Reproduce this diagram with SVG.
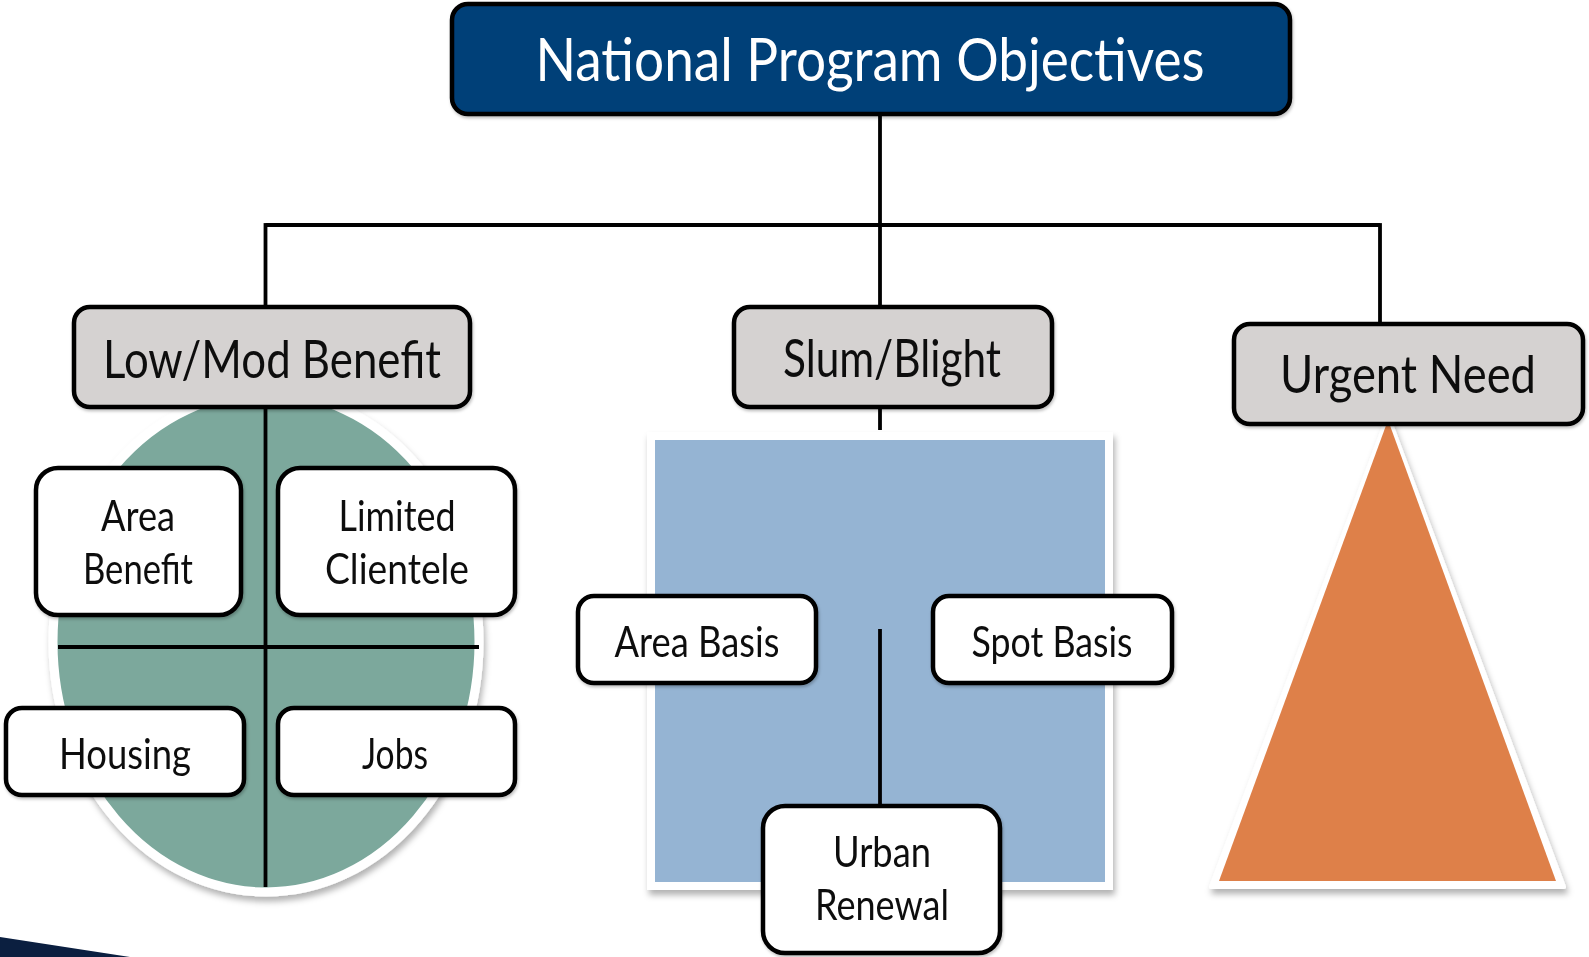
<svg xmlns="http://www.w3.org/2000/svg" width="1589" height="957" viewBox="0 0 1589 957">
<defs>
<filter id="sh" x="-10%" y="-10%" width="125%" height="125%">
<feDropShadow dx="2" dy="5" stdDeviation="3" flood-color="#000" flood-opacity="0.3"/>
</filter>
<filter id="bs" x="-10%" y="-10%" width="125%" height="130%">
<feDropShadow dx="1" dy="2" stdDeviation="1.5" flood-color="#000" flood-opacity="0.25"/>
</filter>
</defs>
<style>
.hdr{fill:#D5D2D1;stroke:#000;stroke-width:4.5}
.sub{fill:#fff;stroke:#000;stroke-width:4.5}
.ln{stroke:#000;stroke-width:3.8;fill:none}
.t{font-family:Lato,"Liberation Sans",sans-serif;fill:#111;text-anchor:middle}
.th{font-size:52px}
.ts{font-size:43px}
</style>
<rect width="1589" height="957" fill="#fff"/>
<g id="backgrounds">
<ellipse cx="266" cy="642" rx="213" ry="250" fill="#7BA89C" stroke="#fff" stroke-width="9" filter="url(#sh)"/>
<rect x="651" y="436" width="458" height="450" fill="#95B4D3" stroke="#fff" stroke-width="8" filter="url(#sh)"/>
<polygon points="1388,416 1564,887 1211,887" fill="#fff" stroke="#fff" stroke-width="4" stroke-linejoin="round" filter="url(#sh)"/>
<polygon points="1388,420 1556,881 1219,881" fill="#DE8049"/>
<polygon points="0,937 130,957 0,957" fill="#0B1F40"/>
</g>
<g id="connectors">
<line class="ln" x1="880" y1="115" x2="880" y2="307"/>
<line class="ln" x1="265.5" y1="225" x2="1380" y2="225"/>
<line class="ln" x1="265.5" y1="223.1" x2="265.5" y2="307"/>
<line class="ln" x1="1380" y1="223.1" x2="1380" y2="324"/>
<line class="ln" x1="880" y1="407" x2="880" y2="430"/>
<line class="ln" x1="880" y1="629" x2="880" y2="806"/>
<line class="ln" x1="265.5" y1="407" x2="265.5" y2="887"/>
<line class="ln" x1="58" y1="647" x2="479" y2="647"/>
</g>
<g id="node-objectives" filter="url(#bs)">
<rect x="452" y="4" width="838" height="110" rx="16" fill="#023F78" stroke="#000" stroke-width="4.5"/>
<text class="t" x="870" y="81" style="font-size:60px;fill:#fff" textLength="669" lengthAdjust="spacingAndGlyphs">National Program Objectives</text>
</g>
<g id="node-lowmod" filter="url(#bs)">
<rect class="hdr" x="74" y="307" width="396" height="100" rx="16"/>
<text class="t th" x="272" y="378" textLength="338" lengthAdjust="spacingAndGlyphs">Low/Mod Benefit</text>
</g>
<g id="node-slum" filter="url(#bs)">
<rect class="hdr" x="734" y="307" width="318" height="100" rx="16"/>
<text class="t th" x="892" y="377" textLength="218" lengthAdjust="spacingAndGlyphs">Slum/Blight</text>
</g>
<g id="node-urgent" filter="url(#bs)">
<rect class="hdr" x="1234" y="324" width="349" height="100" rx="16"/>
<text class="t th" x="1408" y="393" textLength="256" lengthAdjust="spacingAndGlyphs">Urgent Need</text>
</g>
<g id="node-area-benefit" filter="url(#bs)">
<rect class="sub" x="36" y="468" width="205" height="147" rx="22"/>
<text class="t ts" x="138" y="531" textLength="74" lengthAdjust="spacingAndGlyphs">Area</text>
<text class="t ts" x="138" y="584" textLength="110" lengthAdjust="spacingAndGlyphs">Benefit</text>
</g>
<g id="node-limited" filter="url(#bs)">
<rect class="sub" x="278" y="468" width="237" height="147" rx="22"/>
<text class="t ts" x="397" y="531" textLength="117" lengthAdjust="spacingAndGlyphs">Limited</text>
<text class="t ts" x="397" y="584" textLength="144" lengthAdjust="spacingAndGlyphs">Clientele</text>
</g>
<g id="node-housing" filter="url(#bs)">
<rect class="sub" x="6" y="708" width="238" height="87" rx="16"/>
<text class="t ts" x="125" y="769" textLength="132" lengthAdjust="spacingAndGlyphs">Housing</text>
</g>
<g id="node-jobs" filter="url(#bs)">
<rect class="sub" x="278" y="708" width="237" height="87" rx="16"/>
<text class="t ts" x="395" y="769" textLength="66" lengthAdjust="spacingAndGlyphs">Jobs</text>
</g>
<g id="node-area-basis" filter="url(#bs)">
<rect class="sub" x="578" y="596" width="238" height="87" rx="16"/>
<text class="t ts" x="697" y="657" textLength="165" lengthAdjust="spacingAndGlyphs">Area Basis</text>
</g>
<g id="node-spot-basis" filter="url(#bs)">
<rect class="sub" x="933" y="596" width="239" height="87" rx="16"/>
<text class="t ts" x="1052" y="657" textLength="161" lengthAdjust="spacingAndGlyphs">Spot Basis</text>
</g>
<g id="node-urban" filter="url(#bs)">
<rect class="sub" x="763" y="806" width="237" height="147" rx="22"/>
<text class="t ts" x="882" y="867" textLength="98" lengthAdjust="spacingAndGlyphs">Urban</text>
<text class="t ts" x="882" y="920" textLength="134" lengthAdjust="spacingAndGlyphs">Renewal</text>
</g>
</svg>
